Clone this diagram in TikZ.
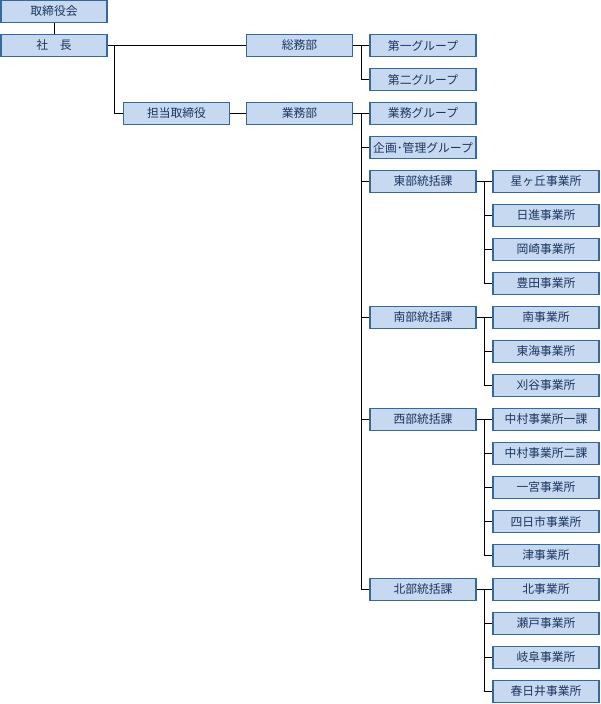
\documentclass[tikz,border=0pt]{standalone}
\usepackage{fontspec}
\setmainfont{Noto Sans CJK JP}
\begin{document}
\begin{tikzpicture}[x=1pt,y=-1pt,
  orgbox/.style={draw=boxline,fill=boxfill,line width=1.2pt,minimum width=106pt,minimum height=21.8pt,
    inner sep=0pt,text=boxtext,font=\fontsize{11.8}{13}\selectfont},
  link/.style={draw=black,line width=1pt}]
\definecolor{boxfill}{HTML}{C6D9F0}
\definecolor{boxline}{HTML}{36689A}
\definecolor{boxtext}{HTML}{1A3560}
\useasboundingbox (0,0) rectangle (600,704);
% column A
\node[orgbox] (tori) at (54,11.5) {取締役会};
\node[orgbox] (shacho) at (54,45.5) {社　長};
% column B
\node[orgbox] (tanto) at (176.5,113.5) {担当取締役};
% column C
\node[orgbox] (somu) at (299.5,45.5) {総務部};
\node[orgbox] (gyomu) at (299.5,113.5) {業務部};
% column D
\node[orgbox] (g1) at (423,45.5) {第一グループ};
\node[orgbox] (g2) at (423,79.5) {第二グループ};
\node[orgbox] (gg) at (423,113.5) {業務グループ};
\node[orgbox] (kikaku) at (423,147.5) {企画･管理グループ};
\node[orgbox] (tobu) at (423,181.5) {東部統括課};
\node[orgbox] (nanbu) at (423,317.5) {南部統括課};
\node[orgbox] (seibu) at (423,419.5) {西部統括課};
\node[orgbox] (hokubu) at (423,589.5) {北部統括課};
% column E
\node[orgbox] (e1) at (546,181.5) {星ヶ丘事業所};
\node[orgbox] (e2) at (546,215.5) {日進事業所};
\node[orgbox] (e3) at (546,249.5) {岡崎事業所};
\node[orgbox] (e4) at (546,283.5) {豊田事業所};
\node[orgbox] (e5) at (546,317.5) {南事業所};
\node[orgbox] (e6) at (546,351.5) {東海事業所};
\node[orgbox] (e7) at (546,385.5) {刈谷事業所};
\node[orgbox] (e8) at (546,419.5) {中村事業所一課};
\node[orgbox] (e9) at (546,453.5) {中村事業所二課};
\node[orgbox] (e10) at (546,487.5) {一宮事業所};
\node[orgbox] (e11) at (546,521.5) {四日市事業所};
\node[orgbox] (e12) at (546,555.5) {津事業所};
\node[orgbox] (e13) at (546,589.5) {北事業所};
\node[orgbox] (e14) at (546,623.5) {瀬戸事業所};
\node[orgbox] (e15) at (546,657.5) {岐阜事業所};
\node[orgbox] (e16) at (546,691.5) {春日井事業所};
% connectors
\draw[link] (tori) -- (shacho);
\draw[link] (shacho.east) -- (somu.west);
\draw[link] ([xshift=7pt]shacho.east) |- (tanto.west);
\draw[link] (tanto.east) -- (gyomu.west);
\draw[link] (somu.east) -- (g1.west);
\draw[link] ([xshift=8.3pt]somu.east) |- (g2.west);
\draw[link] (gyomu.east) -- (gg.west);
\foreach \t in {kikaku,tobu,nanbu,seibu,hokubu}
  \draw[link] ([xshift=8.3pt]gyomu.east) |- (\t.west);
\draw[link] (tobu.east) -- (e1.west);
\foreach \t in {e2,e3,e4} \draw[link] ([xshift=8pt]tobu.east) |- (\t.west);
\draw[link] (nanbu.east) -- (e5.west);
\foreach \t in {e6,e7} \draw[link] ([xshift=8pt]nanbu.east) |- (\t.west);
\draw[link] (seibu.east) -- (e8.west);
\foreach \t in {e9,e10,e11,e12} \draw[link] ([xshift=8pt]seibu.east) |- (\t.west);
\draw[link] (hokubu.east) -- (e13.west);
\foreach \t in {e14,e15,e16} \draw[link] ([xshift=8pt]hokubu.east) |- (\t.west);
\end{tikzpicture}
\end{document}
